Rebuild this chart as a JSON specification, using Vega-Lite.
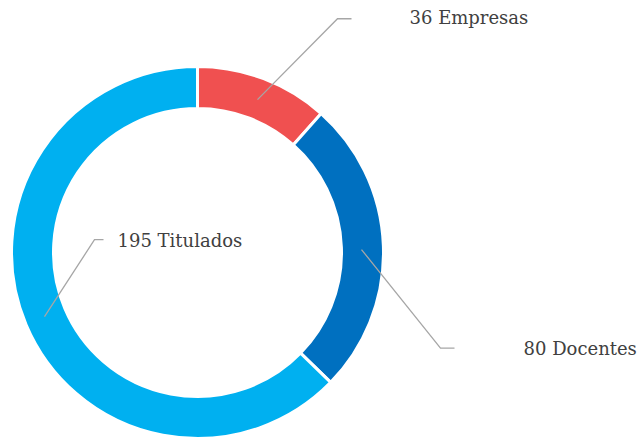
{
  "$schema": "https://vega.github.io/schema/vega-lite/v6.json",
  "width": 642,
  "height": 442,
  "autosize": {"type": "fit", "contains": "padding"},
  "padding": 0,
  "background": "white",
  "config": {"view": {"stroke": null}},
  "datasets": {
    "slices": [
      {"cat": "Empresas", "value": 36, "order": 1, "cx": 0, "cy": 0},
      {"cat": "Docentes", "value": 80, "order": 2, "cx": 0, "cy": 0},
      {"cat": "Titulados", "value": 195, "order": 3, "cx": 0, "cy": 0}
    ],
    "leaders": [
      {"cat": "Empresas", "step": 1, "px": 60, "py": 155},
      {"cat": "Empresas", "step": 2, "px": 140, "py": 237},
      {"cat": "Empresas", "step": 3, "px": 154, "py": 237},
      {"cat": "Docentes", "step": 1, "px": 164, "py": 3},
      {"cat": "Docentes", "step": 2, "px": 243, "py": -97},
      {"cat": "Docentes", "step": 3, "px": 257, "py": -97},
      {"cat": "Titulados", "step": 1, "px": -153, "py": -65},
      {"cat": "Titulados", "step": 2, "px": -103, "py": 13},
      {"cat": "Titulados", "step": 3, "px": -94, "py": 13}
    ],
    "labels": [
      {"label": "36 Empresas", "tx": 212, "ty": 237},
      {"label": "80 Docentes", "tx": 326, "ty": -99},
      {"label": "195 Titulados", "tx": -80, "ty": 11}
    ]
  },
  "layer": [
    {
      "data": {"name": "slices"},
      "mark": {"type": "arc", "outerRadius": 186, "innerRadius": 144, "stroke": "white", "strokeWidth": 3},
      "encoding": {
        "theta": {"field": "value", "type": "quantitative", "stack": true},
        "order": {"field": "order", "type": "quantitative"},
        "x": {"field": "cx", "type": "quantitative", "scale": {"domain": [-197.5, 444.5], "nice": false, "zero": false}, "axis": null},
        "y": {"field": "cy", "type": "quantitative", "scale": {"domain": [-186, 256], "nice": false, "zero": false}, "axis": null},
        "color": {
          "field": "cat",
          "type": "nominal",
          "scale": {"domain": ["Empresas", "Docentes", "Titulados"], "range": ["#F05050", "#0070C0", "#00B0F0"]},
          "legend": null
        }
      }
    },
    {
      "data": {"name": "leaders"},
      "mark": {"type": "line", "color": "#A6A6A6", "strokeWidth": 1.3},
      "encoding": {
        "x": {"field": "px", "type": "quantitative", "axis": null},
        "y": {"field": "py", "type": "quantitative", "axis": null},
        "detail": {"field": "cat"},
        "order": {"field": "step", "type": "quantitative"}
      }
    },
    {
      "data": {"name": "labels"},
      "mark": {"type": "text", "align": "left", "baseline": "middle", "font": "DejaVu Serif", "fontSize": 18, "color": "#404040"},
      "encoding": {
        "x": {"field": "tx", "type": "quantitative", "axis": null},
        "y": {"field": "ty", "type": "quantitative", "axis": null},
        "text": {"field": "label"}
      }
    }
  ],
  "resolve": {"scale": {"x": "shared", "y": "shared"}}
}
